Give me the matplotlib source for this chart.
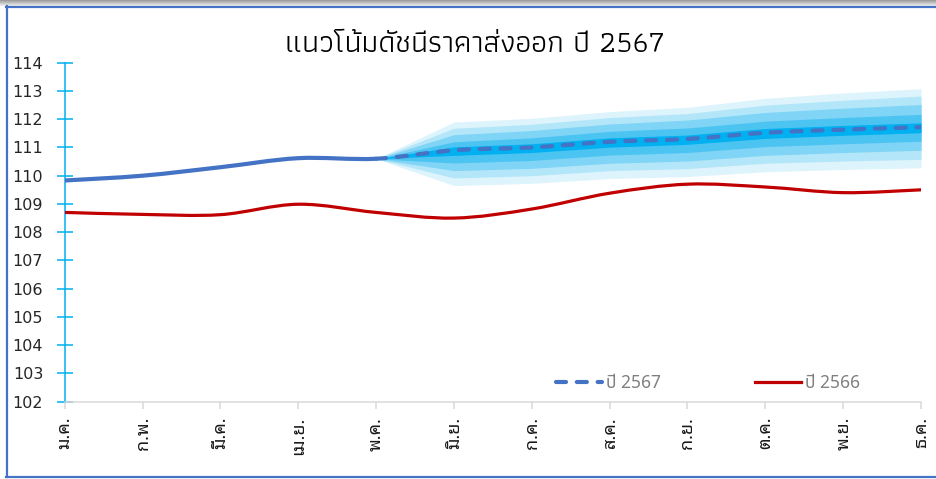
import numpy as np
import matplotlib
matplotlib.use('Agg')
import matplotlib.pyplot as plt
from matplotlib.path import Path
from matplotlib.patches import PathPatch
from matplotlib.lines import Line2D

months = ['ม.ค.', 'ก.พ.', 'มี.ค.', 'เม.ย.', 'พ.ค.', 'มิ.ย.',
          'ก.ค.', 'ส.ค.', 'ก.ย.', 'ต.ค.', 'พ.ย.', 'ธ.ค.']
y2567 = [109.83, 110.0, 110.3, 110.62, 110.6, 110.9,
         111.0, 111.2, 111.3, 111.52, 111.63, 111.72]
y2566 = [108.7, 108.63, 108.62, 108.99, 108.7, 108.5,
         108.82, 109.38, 109.7, 109.6, 109.4, 109.5]

# fan chart offsets (May..Dec), from the dark centre band out to the lightest
fan_start = 4
fan_up = [
    [0, .12, .13, .14, .14, .15, .15, .15],
    [0, .30, .34, .37, .39, .41, .43, .45],
    [0, .55, .60, .63, .67, .72, .76, .80],
    [0, .78, .82, .86, .90, .98, 1.04, 1.10],
    [0, 1.00, 1.03, 1.07, 1.12, 1.22, 1.30, 1.36],
]
fan_dn = [
    [0, .18, .18, .19, .19, .20, .20, .20],
    [0, .45, .46, .47, .48, .49, .50, .50],
    [0, .72, .74, .76, .78, .80, .81, .82],
    [0, .98, 1.00, 1.02, 1.05, 1.08, 1.11, 1.14],
    [0, 1.25, 1.27, 1.30, 1.33, 1.38, 1.41, 1.44],
]
fan_colors = ['#00B0F0', '#4CC4F2', '#80D4F5', '#B4E6F9', '#DDF4FC']

blue = '#4472C4'
red = '#C00000'
cyan = '#00B0F0'
thai = ['Noto Sans Thai Looped', 'DejaVu Sans']


def smooth_segments(xs, ys):
    # Excel-style smoothed line: one cubic bezier per interval
    n = len(xs)
    segs = []
    for i in range(n - 1):
        a = max(i - 1, 0)
        b = min(i + 2, n - 1)
        c1 = (xs[i] + (xs[i + 1] - xs[a]) / 6, ys[i] + (ys[i + 1] - ys[a]) / 6)
        c2 = (xs[i + 1] - (xs[b] - xs[i]) / 6, ys[i + 1] - (ys[b] - ys[i]) / 6)
        segs.append(((xs[i], ys[i]), c1, c2, (xs[i + 1], ys[i + 1])))
    return segs


def make_path(segs):
    verts = [segs[0][0]]
    codes = [Path.MOVETO]
    for s in segs:
        verts += [s[1], s[2], s[3]]
        codes += [Path.CURVE4] * 3
    return Path(verts, codes)


fig = plt.figure(figsize=(9.36, 4.79), dpi=100)
ax = fig.add_axes([0.0691, 0.1614, 0.9149, 0.7077])

x = np.arange(len(months))
xf = x[fan_start:]
cf = np.array(y2567[fan_start:])
for k in range(len(fan_up) - 1, -1, -1):
    ax.fill_between(xf, cf - np.array(fan_dn[k]), cf + np.array(fan_up[k]),
                    color=fan_colors[k], lw=0, zorder=1)

red_segs = smooth_segments(x, y2566)
ax.add_patch(PathPatch(make_path(red_segs), fill=False, ec=red, lw=2.3,
                       capstyle='round', zorder=3))

blue_segs = smooth_segments(x, y2567)
ax.add_patch(PathPatch(make_path(blue_segs[:fan_start]), fill=False, ec=blue,
                       lw=3, capstyle='round', zorder=4))
ax.add_patch(PathPatch(make_path(blue_segs[fan_start:]), fill=False, ec=blue,
                       lw=3, capstyle='round', linestyle=(0, (2.4, 2.6)),
                       zorder=4))

ax.set_xlim(0, len(months) - 1)
ax.set_ylim(102, 114)
ax.set_yticks(np.arange(102, 115, 1))
ax.set_xticks(x)
ax.set_xticklabels(months, rotation=90, family=thai, fontsize=13)
ax.tick_params(axis='y', direction='inout', length=11, width=1.1, color=cyan,
               pad=10, labelsize=11.5, labelcolor='#262626')
ax.tick_params(axis='x', direction='out', length=5, width=1.1, color='#D9D9D9',
               pad=6, labelcolor='#1a1a1a')
for s in ['top', 'right']:
    ax.spines[s].set_visible(False)
ax.spines['left'].set_color(cyan)
ax.spines['left'].set_linewidth(1.1)
ax.spines['bottom'].set_color('#D9D9D9')
ax.spines['bottom'].set_linewidth(1.1)

handles = [
    Line2D([], [], color=blue, lw=3, dash_capstyle='round',
           linestyle=(0, (2.4, 2.6))),
    Line2D([], [], color=red, lw=2.3),
]
leg = ax.legend(handles, ['ปี 2567', 'ปี 2566'], loc='center',
                bbox_to_anchor=(0.751, 0.055), ncol=2, frameon=False,
                handlelength=2.65, handletextpad=0.25, columnspacing=5.4,
                prop={'family': ['Noto Sans Thai', 'Noto Sans'], 'size': 12.5})
for t in leg.get_texts():
    t.set_color('#808080')

fig.text(0.5075, 0.908, 'แนวโน้มดัชนีราคาส่งออก ปี 2567', ha='center', va='center',
         family=['Athiti', 'DejaVu Sans'], fontsize=22, color='#000000')

# chart frame as in the source screenshot
strip = fig.add_axes([0, 1 - 6 / 479, 1, 6 / 479])
strip.imshow(np.linspace(0.62, 0.92, 6).reshape(-1, 1), cmap='gray', aspect='auto',
             vmin=0, vmax=1)
strip.axis('off')
W, H = 936, 479
fig.add_artist(Line2D([7 / W, 7 / W], [1 - 6 / H, 1 - 477 / H], color=blue, lw=1.6))
fig.add_artist(Line2D([6 / W, 1], [1 - 7 / H, 1 - 7 / H], color=blue, lw=1.6))
fig.add_artist(Line2D([6 / W, 1], [1 - 477 / H, 1 - 477 / H], color=blue, lw=1.6))

fig.savefig('out.png')
